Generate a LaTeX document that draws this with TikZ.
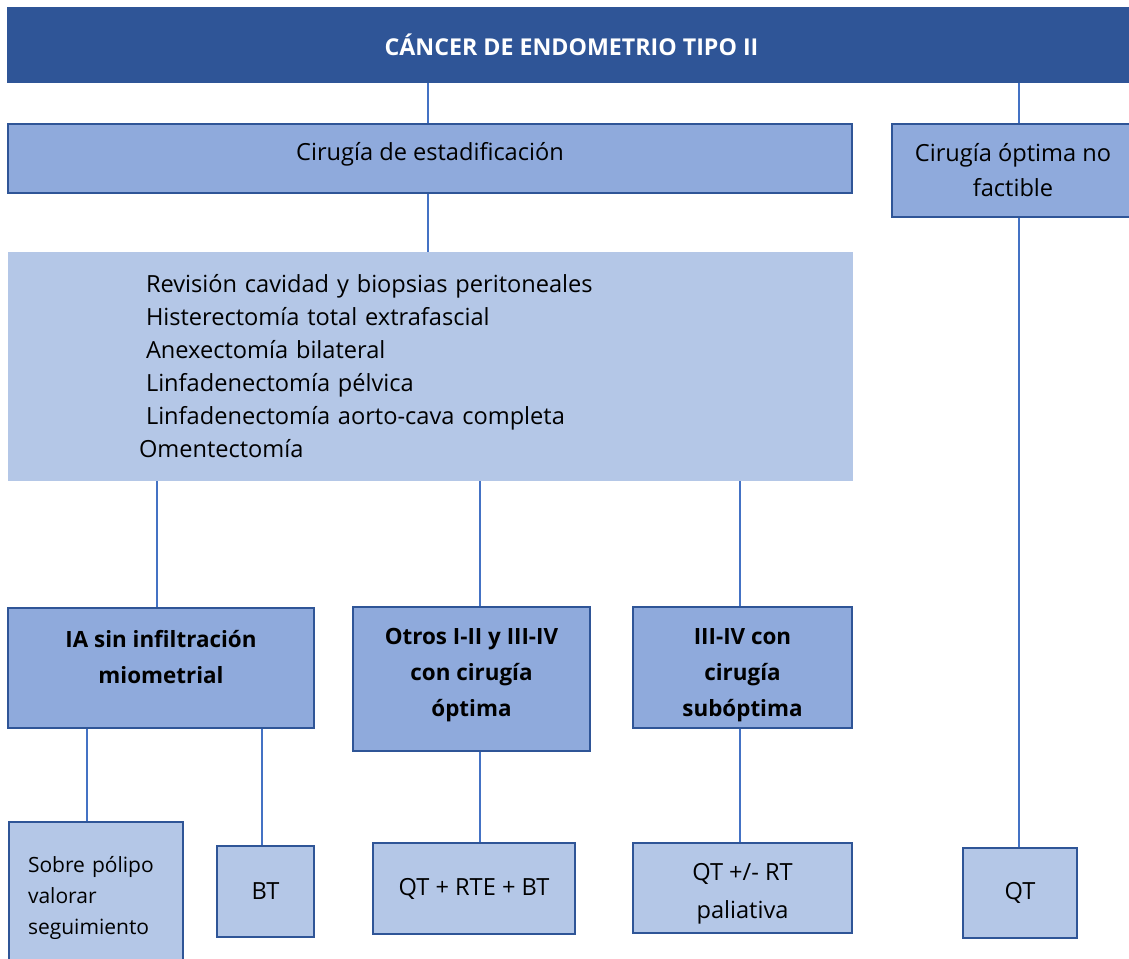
\documentclass[tikz,border=0pt]{standalone}
\usepackage{fontspec}
\setmainfont{Open Sans}
\definecolor{azuloscuro}{HTML}{2F5597}
\definecolor{azulmedio}{HTML}{8FAADC}
\definecolor{azulclaro}{HTML}{B4C7E7}
\definecolor{azullinea}{HTML}{4472C4}
% texto centrado con alto/profundidad extra para subir o bajar las lineas
\newcommand{\texto}[3]{\raisebox{0pt}[\dimexpr\height+#1\relax][\dimexpr\depth+#2\relax]{\begin{tabular}{@{}c@{}}#3\end{tabular}}}

\begin{document}
\begin{tikzpicture}[x=0.5pt, y=-0.5pt]
	\tikzset{caja/.style={rectangle, draw=azuloscuro, line width=1.2pt, fill=azulmedio, inner sep=0pt, align=center, font=\fontsize{11.8}{17.5}\selectfont},
		cajaclara/.style={caja, fill=azulclaro},
		negrita/.style={font=\fontsize{11.2}{18}\selectfont\bfseries},
		linea/.style={draw=azullinea, line width=0.75pt}};
	\clip (0,0) rectangle (1129,958);
	\fill[white] (0,0) rectangle (1129,958);

	\node[caja, fill=azuloscuro, draw=azuloscuro, text=white, minimum width=563.5pt, minimum height=37pt, font=\fontsize{11.6}{13}\selectfont\bfseries] (tit) at (571.5,45) {CÁNCER DE ENDOMETRIO TIPO II};
	\node[caja, minimum width=422pt, minimum height=34.5pt] (est) at (430,158.5) {\texto{0pt}{5pt}{Cirugía de estadificación}};
	\node[caja, minimum width=121pt, minimum height=46.5pt] (nof) at (1013,170.5) {Cirugía óptima no\\factible};
	\node[rectangle, fill=azulclaro, minimum height=114.5pt, inner xsep=69pt, inner ysep=0pt, text width=284.5pt, align=left, font=\fontsize{11.8}{16.5}\selectfont] (lista) at (430.5,366.5) {Revisión cavidad y biopsias peritoneales\\Histerectomía total extrafascial\\Anexectomía bilateral\\Linfadenectomía pélvica\\Linfadenectomía aorto-cava completa\\\hspace*{-3.5pt}Omentectomía};

	\node[caja, negrita, minimum width=153pt, minimum height=60pt] (ia) at (161,668) {\texto{0pt}{9.5pt}{IA sin infiltración\\miometrial}};
	\node[caja, negrita, minimum width=118.5pt, minimum height=72pt] (otros) at (471.5,679) {\texto{0pt}{5.5pt}{Otros I-II y III-IV\\con cirugía\\óptima}};
	\node[caja, negrita, minimum width=109.5pt, minimum height=60.5pt] (sub) at (742.5,667.5) {\texto{5.5pt}{0pt}{III-IV con\\cirugía\\subóptima}};

	\node[cajaclara, minimum height=76pt, inner xsep=9.5pt, text width=68pt, align=left, font=\fontsize{10.5}{15.3}\selectfont] (pol) at (96,898) {Sobre pólipo\\valorar\\seguimiento};
	\node[cajaclara, minimum width=48.5pt, minimum height=45.5pt] (bt) at (265.5,891.5) {BT};
	\node[cajaclara, minimum width=101pt, minimum height=45.5pt] (qrb) at (474,888.5) {QT + RTE + BT};
	\node[cajaclara, minimum width=109.5pt, minimum height=45pt, font=\fontsize{11.8}{19}\selectfont] (qrt) at (742.5,888) {\texto{4pt}{0pt}{QT +/- RT\\paliativa}};
	\node[cajaclara, minimum width=57pt, minimum height=45pt] (qt) at (1020,893) {QT};

	\draw[linea] ([xshift=-1pt]est.north) -- ([xshift=-1pt]est.north |- tit.south);
	\draw[linea] ([xshift=3pt]nof.north) -- ([xshift=3pt]nof.north |- tit.south);
	\draw[linea] ([xshift=-1pt]est.south) -- ([xshift=-1pt]est.south |- lista.north);
	\draw[linea] ([xshift=-2pt]ia.north) -- ([xshift=-2pt]ia.north |- lista.south);
	\draw[linea] ([xshift=4.25pt]otros.north) -- ([xshift=4.25pt]otros.north |- lista.south);
	\draw[linea] ([xshift=-1.25pt]sub.north) -- ([xshift=-1.25pt]sub.north |- lista.south);
	\draw[linea] ([xshift=-4.5pt]pol.north) -- ([xshift=-4.5pt]pol.north |- ia.south);
	\draw[linea] ([xshift=-1.75pt]bt.north) -- ([xshift=-1.75pt]bt.north |- ia.south);
	\draw[linea] ([xshift=3pt]qrb.north) -- ([xshift=3pt]qrb.north |- otros.south);
	\draw[linea] ([xshift=-1.25pt]qrt.north) -- ([xshift=-1.25pt]qrt.north |- sub.south);
	\draw[linea] ([xshift=-0.5pt]qt.north) -- ([xshift=-0.5pt]qt.north |- nof.south);
\end{tikzpicture}
\end{document}
